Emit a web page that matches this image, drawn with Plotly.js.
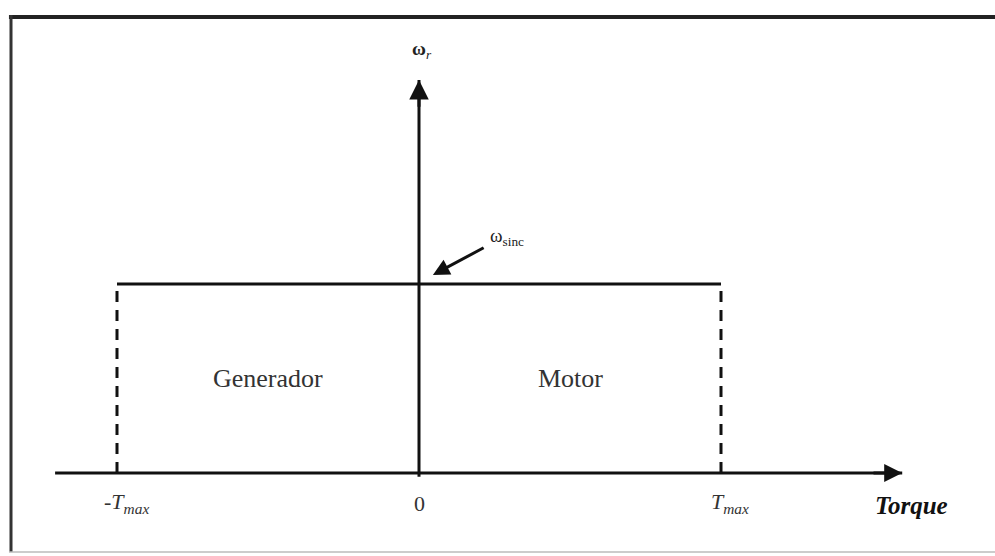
<!DOCTYPE html>
<html>
<head>
<meta charset="utf-8">
<script src="https://cdn.plot.ly/plotly-3.0.1.min.js"></script>
<style>html,body{margin:0;padding:0;background:#fff;}#chart{width:995px;height:556px;}</style>
</head>
<body>
<div id="chart"></div>
<script>
// Torque limits (in units of T_max) and synchronous speed (in units of ω_sinc)
const torqueValues = [-1, 0, 1];
const torqueLabels = ['-<i>T</i><sub><i>max</i></sub>', '0', '<i>T</i><sub><i>max</i></sub>'];
const omegaSync = 1;
const regionNames = ['Generador', 'Motor'];
const axisExtentX = [-1.205, 1.6];
const axisExtentY = [0, 2.08];

const serif = 'Liberation Serif, Times New Roman, serif';
const black = '#111';

const traces = [
  // horizontal torque axis
  {x: axisExtentX, y: [0, 0], mode: 'lines', line: {color: black, width: 3}},
  // vertical speed axis
  {x: [0, 0], y: [-0.02, axisExtentY[1]], mode: 'lines', line: {color: black, width: 3}},
  // synchronous speed line between -Tmax and Tmax
  {x: [torqueValues[0], torqueValues[2]], y: [omegaSync, omegaSync], mode: 'lines', line: {color: black, width: 3}},
  // dashed limits
  {x: [torqueValues[0], torqueValues[0]], y: [0, omegaSync], mode: 'lines', line: {color: black, width: 3, dash: '11px,8px'}},
  {x: [torqueValues[2], torqueValues[2]], y: [0, omegaSync], mode: 'lines', line: {color: black, width: 3, dash: '11px,8px'}}
];

const annotations = [];
// arrowheads
annotations.push({x: axisExtentX[1], y: 0, ax: axisExtentX[1] - 0.1, ay: 0, xref: 'x', yref: 'y', axref: 'x', ayref: 'y',
  text: '', showarrow: true, arrowhead: 2, arrowsize: 1.2, arrowwidth: 3, arrowcolor: black});
annotations.push({x: 0, y: axisExtentY[1], ax: 0, ay: axisExtentY[1] - 0.15, xref: 'x', yref: 'y', axref: 'x', ayref: 'y',
  text: '', showarrow: true, arrowhead: 2, arrowsize: 1.3, arrowwidth: 3, arrowcolor: black});
// ω_sinc pointer
annotations.push({x: 0.046, y: omegaSync + 0.048, ax: 0.219, ay: omegaSync + 0.196, xref: 'x', yref: 'y', axref: 'x', ayref: 'y',
  text: '', showarrow: true, arrowhead: 2, arrowsize: 1.1, arrowwidth: 3, arrowcolor: black});
annotations.push({x: 0.29, y: omegaSync + 0.25, xref: 'x', yref: 'y', text: 'ω<sub>sinc</sub>', showarrow: false,
  font: {family: serif, size: 19, color: '#222'}});
// ω_r label
annotations.push({x: 0.01, y: 2.24, xref: 'x', yref: 'y', text: '<b>ω</b><sub><i>r</i></sub>', showarrow: false,
  font: {family: serif, size: 19, color: '#222'}});
// tick labels
torqueValues.forEach((v, i) => {
  annotations.push({x: v + (i === 1 ? 0 : 0.03), y: -0.16, xref: 'x', yref: 'y', text: torqueLabels[i], showarrow: false,
    font: {family: serif, size: 22, color: '#333'}});
});
// axis title
annotations.push({x: 1.63, y: -0.17, xref: 'x', yref: 'y', text: '<b><i>Torque</i></b>', showarrow: false,
  font: {family: serif, size: 25, color: black}});
// region labels
regionNames.forEach((name, i) => {
  annotations.push({x: (torqueValues[i] + torqueValues[i + 1]) / 2, y: omegaSync / 2, xref: 'x', yref: 'y', text: name, showarrow: false,
    font: {family: serif, size: 26, color: '#333'}});
});

const layout = {
  width: 995, height: 556,
  margin: {l: 0, r: 0, t: 0, b: 0},
  paper_bgcolor: '#fff', plot_bgcolor: '#fff',
  showlegend: false,
  xaxis: {range: [-419 / 302, 576 / 302], visible: false, fixedrange: true},
  yaxis: {range: [-83 / 189, 473 / 189], visible: false, fixedrange: true},
  annotations: annotations,
  shapes: [
    {type: 'line', xref: 'paper', yref: 'paper', x0: 0.009, x1: 1, y0: 1 - 17 / 556, y1: 1 - 17 / 556, line: {color: '#222', width: 4}},
    {type: 'line', xref: 'paper', yref: 'paper', x0: 11 / 995, x1: 11 / 995, y0: 1 - 15 / 556, y1: 1 - 552 / 556, line: {color: '#333', width: 3}},
    {type: 'line', xref: 'paper', yref: 'paper', x0: 0.009, x1: 1, y0: 1 - 552 / 556, y1: 1 - 552 / 556, line: {color: '#bbb', width: 1.5}}
  ]
};

Plotly.newPlot('chart', traces, layout, {staticPlot: true, displayModeBar: false});
</script>
</body>
</html>
